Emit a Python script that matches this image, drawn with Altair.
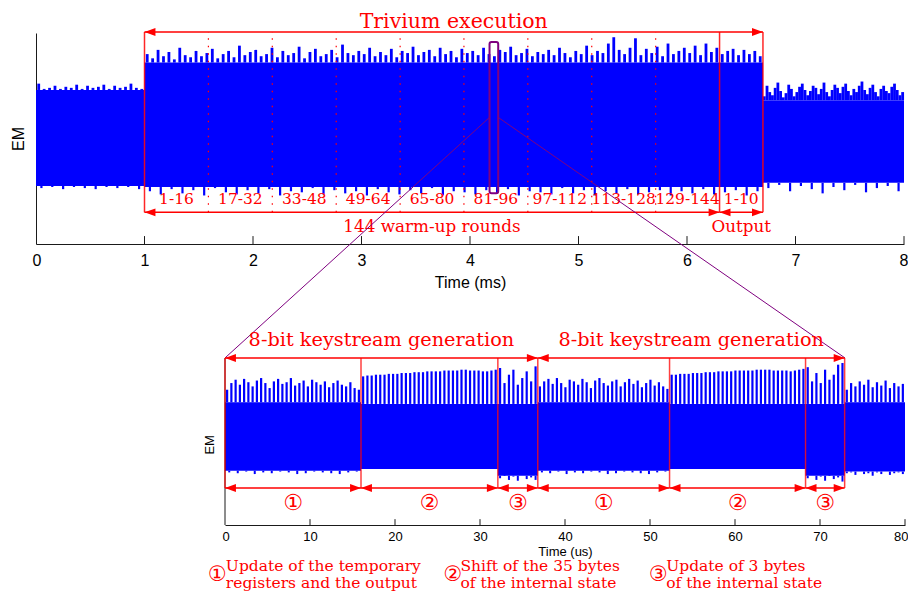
import pandas as pd
import altair as alt

BLUE = "#0000ff"
RED = "#ff0000"
PURPLE = "#7f007f"
AXC = "#1a1a1a"
SERIF = "DejaVu Serif"
SANS = "Liberation Sans"
SYMB = "DejaVu Sans"

# ---------------- top panel: time in ms, EM in arbitrary units ----------------
top_seg_start = [0.0, 1.0, 6.7]
top_seg_end = [1.0, 6.7, 8.0]
top_body_hi = [46, 72, 36]
top_body_lo = [-45, -46, -42]
top_up_A = [52, 47, 48, 50, 47, 49, 48, 51, 47, 50, 48, 49, 51, 47, 50, 48, 49, 52, 48, 47]
top_up_B = [80, 76, 84, 78, 82, 75, 86, 79, 77, 83,
            78, 81, 85, 76, 80, 83, 77, 88, 79, 82,
            84, 78, 80, 86, 77, 83, 79, 81, 87, 76,
            82, 85, 78, 80, 84, 77, 89, 81, 79, 83,
            80, 86, 78, 82, 79, 85, 77, 83, 81, 87,
            79, 82, 84, 78, 86, 80, 83, 77, 85, 81,
            83, 79, 86, 80, 78, 84, 82, 87, 79, 81,
            85, 78, 82, 80, 84, 79, 86, 81, 77, 83,
            80, 88, 79, 83, 81, 90, 96, 84, 80, 86,
            95, 79, 85, 81, 87, 78, 90, 80, 83, 86,
            81, 88, 79, 90, 82, 86, 80, 83, 85, 79,
            84, 80, 83, 78]
top_up_C = [40, 50, 44, 41, 48, 53, 45, 39, 43, 51, 47, 40, 44, 49, 52, 46, 41, 45, 50, 48,
            42, 47, 53, 44, 40, 46, 51, 48, 43, 49, 52, 45, 41, 47, 44, 50, 54, 46, 42, 48,
            51, 44, 40, 47, 50, 45, 43, 49, 52, 46, 41, 44]
top_dn_A = [-47, -46, -48, -46, -47, -48, -46, -47, -46, -48]
top_dn_B = [-50, -53, -48, -52, -49, -54, -47, -51, -53, -49,
            -52, -48, -54, -50, -51, -47, -53, -49, -52, -50,
            -54, -48, -51, -53, -49, -52, -47, -54, -50, -51,
            -53, -49, -52, -48, -54, -50, -51, -53, -47, -52,
            -49, -54, -50, -52, -48, -53, -51, -49, -54, -50,
            -52, -48, -53, -51, -49, -54, -50]
top_dn_C = [-47, -44, -50, -45, -48, -52, -46, -49, -44, -51, -47, -45, -50]

round_bounds = [1.0, 1.589, 2.178, 2.767, 3.356, 3.944, 4.533, 5.122, 5.711, 6.3]
round_labels = ["1-16", "17-32", "33-48", "49-64", "65-80", "81-96", "97-112", "113-128", "129-144"]
dotted_lines = [1.589, 2.178, 2.767, 3.356, 3.944, 4.533, 5.122, 5.711]
phase_lines = [1.0, 6.3, 6.7]
output_range = (6.3, 6.7, "1-10")

top_arrow_t1 = [1.0, 1.0, 6.3]
top_arrow_t2 = [6.7, 6.3, 6.7]
top_arrow_v = [101, -70, -70]
title_text, title_t, title_v = "Trivium execution", 3.85, 105.2
top_text = ["144 warm-up rounds", "Output"]
top_text_t = [3.65, 6.5]
top_text_v = [-84, -84]

zoom_box = dict(t=[4.18], t2=[4.26], v=[-52], v2=[91.5])
zoom_line_t = [4.18, 4.26]
zoom_line_v = [20, 20]
zoom_line_t2 = [1.742, 7.456]
zoom_line_v2 = [-208, -208]

top_ticks = [1, 2, 3, 4, 5, 6, 7, 8]

# ---------------- bottom panel: time in us ----------------
bot_sec_start = [0.0, 16.0, 32.1, 36.8, 52.3, 68.3, 72.9]
bot_sec_end = [16.0, 32.1, 36.8, 52.3, 68.3, 72.9, 80.0]
bot_body_hi = [47, 45, 45, 47, 45, 45, 47]
bot_body_lo = [-35, -33, -41, -35, -33, -41, -36]
bot_up = [
    [62, 70, 74, 68, 75, 71, 66, 73, 76, 70, 64, 72, 75, 69, 71, 76, 67, 70, 73, 66, 74, 71,
     68, 72, 65, 70, 73, 68, 66, 71, 64, 62],
    [78, 79, 79, 80, 80, 80, 81, 81, 81, 82, 82, 82, 83, 83, 83, 84, 84, 84, 84, 85, 85, 85,
     85, 86, 86, 85, 85, 85, 84, 84, 85, 86],
    [88, 70, 80, 86, 68, 76, 84, 72, 90],
    [66, 72, 75, 69, 76, 70, 65, 74, 72, 68, 75, 71, 64, 73, 76, 70, 67, 72, 74, 66, 71, 75,
     69, 73, 65, 70, 74, 67, 71, 66, 63],
    [80, 80, 81, 81, 81, 82, 82, 82, 83, 83, 83, 84, 84, 84, 84, 85, 85, 85, 85, 85, 86, 86,
     86, 86, 85, 85, 85, 85, 84, 85, 86, 87],
    [89, 72, 82, 70, 86, 74, 80, 92, 94],
    [62, 70, 66, 72, 68, 74, 65, 71, 67, 73, 64, 70, 66, 69],
]
bot_dn = [
    [-37, -38, -36, -39, -37, -38, -36, -37, -39, -38, -36, -37, -38, -39, -37, -36],
    [],
    [-44, -40, -46, -42, -47, -41, -45, -43, -46],
    [-37, -38, -36, -39, -37, -38, -36, -37, -39, -38, -36, -37, -38, -39, -37, -36],
    [],
    [-44, -41, -46, -42, -47, -40, -45, -43, -48],
    [-38, -37, -40, -36, -39, -38, -41, -37, -39, -36, -40, -38, -37, -39],
]
bot_lines = [0.0, 16.0, 32.1, 36.8, 52.3, 68.3, 72.9]
bot_arrow_t1 = [0.0, 36.8, 0.0, 16.0, 32.1, 36.8, 52.3, 68.3]
bot_arrow_t2 = [36.8, 72.9, 16.0, 32.1, 36.8, 52.3, 68.3, 72.9]
bot_arrow_v = [100, 100, -55.7, -55.7, -55.7, -55.7, -55.7, -55.7]
bot_title_text = ["8-bit keystream generation", "8-bit keystream generation"]
bot_title_t = [18.4, 54.85]
bot_title_v = [121.6, 121.6]
step_glyphs = ["①", "②", "③", "①", "②", "③"]
step_t = [8.0, 24.05, 34.45, 44.55, 60.3, 70.6]
step_v = -73.7
foot_glyph = ["①", "②", "③"]
foot_glyph_t = [-0.9, 26.8, 51.0]
foot_line1 = ["Update of the temporary", "Shift of the 35 bytes", "Update of 3 bytes"]
foot_line2 = ["registers and the output", "of the internal state", "of the internal state"]
foot_text_t = [0.1, 27.7, 51.9]
foot_v1, foot_v2, foot_vg = -149.1, -169.5, -159.9
bot_ticks = [10, 20, 30, 40, 50, 60, 70, 80]


def centers(start, end, n):
    step = (end - start) / n
    return [round(start + step * (i + 0.5), 4) for i in range(n)]


LEFT_HEAD = "M0,0L1,-0.36L1,0.36Z"
RIGHT_HEAD = "M0,0L-1,-0.36L-1,0.36Z"

# ---------------- scales / axes ----------------
sx_top = alt.Scale(domain=[0, 8], nice=False, zero=False)
sy_top = alt.Scale(domain=[-100, 100], nice=False, zero=False)
ax_top_x = alt.Axis(orient="bottom", values=list(range(9)), title="Time (ms)", tickSize=0,
                    labelPadding=8, labelFontSize=16, titleFontSize=16, labelFont=SANS,
                    titleFont=SANS, titleFontWeight="normal", domainColor=AXC,
                    labelColor="#000", titleColor="#000", grid=False, labelFlush=True,
                    labelFlushOffset=4, titlePadding=6)
ax_top_y = alt.Axis(orient="left", title="EM", ticks=False, labels=False, tickSize=0,
                    titleFontSize=16, titleFont=SANS, titleFontWeight="normal",
                    domainColor=AXC, titleColor="#000", grid=False, titlePadding=10)

sx_bot = alt.Scale(domain=[0, 80], range=[189, 869], nice=False, zero=False)
sy_bot = alt.Scale(domain=[-100, 100], range=[492, 325], nice=False, zero=False)
ax_bot_x = alt.Axis(orient="bottom", offset=281, values=list(range(0, 81, 10)),
                    title="Time (us)", tickSize=0, labelPadding=5, labelFontSize=13,
                    titleFontSize=13, labelFont=SANS, titleFont=SANS,
                    titleFontWeight="normal", domainColor=AXC, labelColor="#000",
                    titleColor="#000", grid=False, labelFlush=True, labelFlushOffset=3,
                    titlePadding=2)


def TX(f="t"):
    return alt.X(f"{f}:Q", scale=sx_top, axis=ax_top_x)


def TY(f="v"):
    return alt.Y(f"{f}:Q", scale=sy_top, axis=ax_top_y)


def BX(f="t"):
    return alt.X(f"{f}:Q", scale=sx_bot, axis=ax_bot_x)


def BY(f="v"):
    return alt.Y(f"{f}:Q", scale=sy_bot, axis=None)


# ---------------- top panel layers ----------------
top_layers = []
top_layers.append(
    alt.Chart(pd.DataFrame(dict(t=top_seg_start, t2=top_seg_end, v=top_body_lo, v2=top_body_hi)))
    .mark_rect(color=BLUE)
    .encode(x=TX(), x2=alt.X2("t2:Q"), y=TY(), y2=alt.Y2("v2:Q"))
)
# spiky upper and lower edges: thin vertical strokes
spike_rows, dn_rows = [], []
for k, ups in enumerate([top_up_A, top_up_B, top_up_C]):
    s, e = top_seg_start[k], top_seg_end[k]
    for t, val in zip(centers(s, e, len(ups)), ups):
        spike_rows.append(dict(t=t, v=top_body_hi[k], v2=val))
for k, dns in enumerate([top_dn_A, top_dn_B, top_dn_C]):
    s, e = top_seg_start[k], top_seg_end[k]
    for t, val in zip(centers(s, e, len(dns)), dns):
        dn_rows.append(dict(t=t, v=top_body_lo[k], v2=val))
top_layers.append(
    alt.Chart(pd.DataFrame(spike_rows)).mark_rule(color=BLUE, strokeWidth=2.8)
    .encode(x=TX(), y=TY(), y2=alt.Y2("v2:Q"))
)
top_layers.append(
    alt.Chart(pd.DataFrame(dn_rows)).mark_rule(color=BLUE, strokeWidth=2.2)
    .encode(x=TX(), y=TY(), y2=alt.Y2("v2:Q"))
)
# inward ticks
top_layers.append(
    alt.Chart(pd.DataFrame(dict(t=top_ticks, v=[-100] * len(top_ticks), v2=[-92.5] * len(top_ticks))))
    .mark_rule(color=AXC, strokeWidth=1)
    .encode(x=TX(), y=TY(), y2=alt.Y2("v2:Q"))
)
# dotted round separators
top_layers.append(
    alt.Chart(pd.DataFrame(dict(t=dotted_lines, v=[-70] * len(dotted_lines), v2=[101] * len(dotted_lines))))
    .mark_rule(color=RED, strokeWidth=1.2, strokeDash=[1.5, 6])
    .encode(x=TX(), y=TY(), y2=alt.Y2("v2:Q"))
)
# solid phase lines
top_layers.append(
    alt.Chart(pd.DataFrame(dict(t=phase_lines, v=[-70] * 3, v2=[101] * 3)))
    .mark_rule(color=RED, strokeWidth=1.5, opacity=0.85)
    .encode(x=TX(), y=TY(), y2=alt.Y2("v2:Q"))
)
# arrows
top_layers.append(
    alt.Chart(pd.DataFrame(dict(t=top_arrow_t1, t2=top_arrow_t2, v=top_arrow_v)))
    .mark_rule(color=RED, strokeWidth=1.5)
    .encode(x=TX(), x2=alt.X2("t2:Q"), y=TY())
)
top_layers.append(
    alt.Chart(pd.DataFrame(dict(t=top_arrow_t1, v=top_arrow_v)))
    .mark_point(shape=LEFT_HEAD, filled=True, color=RED, size=480, opacity=1, strokeWidth=0)
    .encode(x=TX(), y=TY())
)
top_layers.append(
    alt.Chart(pd.DataFrame(dict(t=top_arrow_t2, v=top_arrow_v)))
    .mark_point(shape=RIGHT_HEAD, filled=True, color=RED, size=480, opacity=1, strokeWidth=0)
    .encode(x=TX(), y=TY())
)
# range labels
rl_t = [round((round_bounds[i] + round_bounds[i + 1]) / 2, 4) for i in range(len(round_labels))]
rl_t.append((output_range[0] + output_range[1]) / 2)
rl_lab = round_labels + [output_range[2]]
top_layers.append(
    alt.Chart(pd.DataFrame(dict(t=rl_t, v=[-57.3] * len(rl_t), label=rl_lab)))
    .mark_text(font=SERIF, fontSize=15.5, color=RED, baseline="middle", align="center")
    .encode(x=TX(), y=TY(), text="label:N")
)
top_layers.append(
    alt.Chart(pd.DataFrame(dict(t=top_text_t, v=top_text_v, label=top_text)))
    .mark_text(font=SERIF, fontSize=16.8, color=RED, baseline="middle", align="center")
    .encode(x=TX(), y=TY(), text="label:N")
)
top_layers.append(
    alt.Chart(pd.DataFrame(dict(t=[title_t], v=[title_v], label=[title_text])))
    .mark_text(font=SERIF, fontSize=20.5, color=RED, baseline="alphabetic", align="center")
    .encode(x=TX(), y=TY(), text="label:N")
)
# zoom box and connecting lines
top_layers.append(
    alt.Chart(pd.DataFrame(zoom_box))
    .mark_rect(fillOpacity=0, stroke=PURPLE, strokeWidth=2, cornerRadius=2)
    .encode(x=TX(), x2=alt.X2("t2:Q"), y=TY(), y2=alt.Y2("v2:Q"))
)
top_layers.append(
    alt.Chart(pd.DataFrame(dict(t=zoom_line_t, t2=zoom_line_t2, v=zoom_line_v, v2=zoom_line_v2)))
    .mark_rule(color=PURPLE, strokeWidth=1)
    .encode(x=TX(), x2=alt.X2("t2:Q"), y=TY(), y2=alt.Y2("v2:Q"))
)

# ---------------- bottom panel layers ----------------
bot_layers = []
bot_layers.append(
    alt.Chart(pd.DataFrame(dict(t=bot_sec_start, t2=bot_sec_end, v=bot_body_lo, v2=bot_body_hi)))
    .mark_rect(color=BLUE)
    .encode(x=BX(), x2=alt.X2("t2:Q"), y=BY(), y2=alt.Y2("v2:Q"))
)
bup_rows, bdn_rows = [], []
for k in range(len(bot_sec_start)):
    s, e = bot_sec_start[k], bot_sec_end[k]
    for t, v2 in zip(centers(s, e, len(bot_up[k])), bot_up[k]):
        bup_rows.append(dict(t=t, v=bot_body_hi[k], v2=v2))
    if bot_dn[k]:
        for t, v2 in zip(centers(s, e, len(bot_dn[k])), bot_dn[k]):
            bdn_rows.append(dict(t=t, v=bot_body_lo[k], v2=v2))
bot_layers.append(
    alt.Chart(pd.DataFrame(bup_rows)).mark_rule(color=BLUE, strokeWidth=2.2)
    .encode(x=BX(), y=BY(), y2=alt.Y2("v2:Q"))
)
bot_layers.append(
    alt.Chart(pd.DataFrame(bdn_rows)).mark_rule(color=BLUE, strokeWidth=2)
    .encode(x=BX(), y=BY(), y2=alt.Y2("v2:Q"))
)
# left axis line and inward ticks
bot_layers.append(
    alt.Chart(pd.DataFrame(dict(t=[0.0], v=[-100], v2=[100])))
    .mark_rule(color=AXC, strokeWidth=1)
    .encode(x=BX(), y=BY(), y2=alt.Y2("v2:Q"))
)
bot_layers.append(
    alt.Chart(pd.DataFrame(dict(t=bot_ticks, v=[-100] * len(bot_ticks), v2=[-93] * len(bot_ticks))))
    .mark_rule(color=AXC, strokeWidth=1)
    .encode(x=BX(), y=BY(), y2=alt.Y2("v2:Q"))
)
bot_layers.append(
    alt.Chart(pd.DataFrame(dict(t=[-1.8], v=[-4], label=["EM"])))
    .mark_text(font=SANS, fontSize=13, color="#000", angle=270, baseline="middle", align="center")
    .encode(x=BX(), y=BY(), text="label:N")
)
# red phase lines
bot_layers.append(
    alt.Chart(pd.DataFrame(dict(t=bot_lines, v=[-55.7] * len(bot_lines), v2=[100] * len(bot_lines))))
    .mark_rule(color=RED, strokeWidth=1.5, opacity=0.75)
    .encode(x=BX(), y=BY(), y2=alt.Y2("v2:Q"))
)
bot_layers.append(
    alt.Chart(pd.DataFrame(dict(t=bot_arrow_t1, t2=bot_arrow_t2, v=bot_arrow_v)))
    .mark_rule(color=RED, strokeWidth=1.5)
    .encode(x=BX(), x2=alt.X2("t2:Q"), y=BY())
)
bot_layers.append(
    alt.Chart(pd.DataFrame(dict(t=bot_arrow_t1, v=bot_arrow_v)))
    .mark_point(shape=LEFT_HEAD, filled=True, color=RED, size=480, opacity=1, strokeWidth=0)
    .encode(x=BX(), y=BY())
)
bot_layers.append(
    alt.Chart(pd.DataFrame(dict(t=bot_arrow_t2, v=bot_arrow_v)))
    .mark_point(shape=RIGHT_HEAD, filled=True, color=RED, size=480, opacity=1, strokeWidth=0)
    .encode(x=BX(), y=BY())
)
bot_layers.append(
    alt.Chart(pd.DataFrame(dict(t=bot_title_t, v=bot_title_v, label=bot_title_text)))
    .mark_text(font=SERIF, fontSize=19.3, color=RED, baseline="middle", align="center")
    .encode(x=BX(), y=BY(), text="label:N")
)
bot_layers.append(
    alt.Chart(pd.DataFrame(dict(t=step_t, v=[step_v] * len(step_t), label=step_glyphs)))
    .mark_text(font=SYMB, fontSize=22, color=RED, baseline="middle", align="center")
    .encode(x=BX(), y=BY(), text="label:N")
)
bot_layers.append(
    alt.Chart(pd.DataFrame(dict(t=foot_glyph_t, v=[foot_vg] * 3, label=foot_glyph)))
    .mark_text(font=SYMB, fontSize=21, color=RED, baseline="middle", align="center")
    .encode(x=BX(), y=BY(), text="label:N")
)
foot_rows = pd.DataFrame(dict(t=foot_text_t * 2, v=[foot_v1] * 3 + [foot_v2] * 3,
                              label=foot_line1 + foot_line2))
bot_layers.append(
    alt.Chart(foot_rows)
    .mark_text(font=SERIF, fontSize=15.5, color=RED, baseline="middle", align="left")
    .encode(x=BX(), y=BY(), text="label:N")
)

top_group = alt.layer(*top_layers)
bot_group = alt.layer(*bot_layers)

chart = (
    alt.layer(top_group, bot_group)
    .resolve_scale(x="independent", y="independent")
    .properties(
        width=868,
        height=211,
        autosize=alt.AutoSizeParams(type="none"),
        padding={"left": 28, "top": 25, "right": 4, "bottom": 348},
    )
    .configure_view(stroke=None)
)

chart.save("out.html", embed_options={"renderer": "svg", "actions": False})
